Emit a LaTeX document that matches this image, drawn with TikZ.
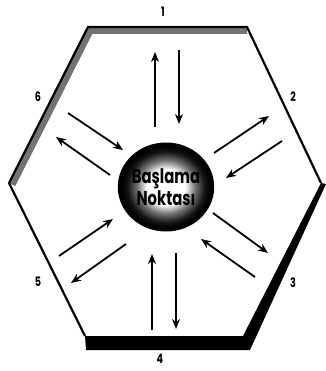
\documentclass[tikz,border=0pt]{standalone}
\usepackage{fontspec}
\newfontfamily\hexfont{Poppins}[FakeStretch=0.74]
\usepackage{tikz}
\usetikzlibrary{arrows.meta, calc}
\definecolor{myband}{rgb}{0.45, 0.45, 0.45}
\pgfdeclareradialshading{ballshade}{\pgfpoint{0bp}{0bp}}{color(0bp)=(white); color(10bp)=(white); color(15bp)=(black!55); color(20bp)=(black!92); color(23bp)=(black); color(50bp)=(black)}
\tikzstyle{ball} = [ellipse, minimum width=79pt, minimum height=89pt, inner sep=0pt, shading=ballshade, align=center, font=\hexfont\bfseries\fontsize{20}{20}\selectfont]
\tikzstyle{sidelabel} = [font=\hexfont\bfseries\fontsize{13}{13}\selectfont, inner sep=0pt]
\tikzstyle{edge} = [line width=2.2pt, line join=miter]
\tikzstyle{arrow} = [line width=1.8pt, -{Stealth[length=10pt, width=8pt]}]
\usetikzlibrary{shapes.geometric}

\begin{document}
\begin{tikzpicture}[x=1pt, y=-1pt]
    \useasboundingbox (0,0) rectangle (325,371);
    % hexagon corners
    \coordinate (v1) at (88,27);
    \coordinate (v2) at (247,27);
    \coordinate (v3) at (321,183);
    \coordinate (v4) at (243,336);
    \coordinate (v5) at (85,336);
    \coordinate (v6) at (9,183);
    % grey bevel on top and upper left
    \begin{scope}
        \clip (v1) -- (v2) -- (v3) -- (v4) -- (v5) -- (v6) -- cycle;
        \draw[myband, line width=14pt] (v6) -- (v1) -- (v2);
    \end{scope}
    % black shadow at the bottom
    \fill[black] (v3) -- (v4) -- (v5) -- (86,350) -- (250,350) -- (326,184) -- cycle;
    \draw[edge] (v5) -- (v6) -- (v1) -- (v2) -- (v3);

    \node (start) [ball] at (166,187) {Başlama\\[1pt]Noktası};

    \node (l1) [sidelabel] at (163,12) {1};
    \node (l2) [sidelabel] at (293,97) {2};
    \node (l3) [sidelabel] at (293,283) {3};
    \node (l4) [sidelabel] at (160,359) {4};
    \node (l5) [sidelabel] at (38,282) {5};
    \node (l6) [sidelabel] at (38,97) {6};

    % arrow ends
    \coordinate (a1o) at (155,127); \coordinate (b1o) at (155,52);
    \coordinate (a1i) at (179,50);  \coordinate (b1i) at (179,124);
    \coordinate (a2o) at (214,153); \coordinate (b2o) at (269,116);
    \coordinate (a2i) at (282,141); \coordinate (b2i) at (226,178);
    \coordinate (a3o) at (213,213); \coordinate (b3o) at (268,253);
    \coordinate (a3i) at (255,277); \coordinate (b3i) at (201,239);
    \coordinate (a4o) at (176,253); \coordinate (b4o) at (176,329);
    \coordinate (a4i) at (152,330); \coordinate (b4i) at (152,254);
    \coordinate (a5o) at (126,244); \coordinate (b5o) at (71,283);
    \coordinate (a5i) at (59,256);  \coordinate (b5i) at (113,219);
    \coordinate (a6o) at (110,175); \coordinate (b6o) at (56,137);
    \coordinate (a6i) at (68,113);  \coordinate (b6i) at (123,150);

    \draw[arrow] (a1o) -- (b1o);
    \draw[arrow] (a1i) -- (b1i);
    \draw[arrow] (a2o) -- (b2o);
    \draw[arrow] (a2i) -- (b2i);
    \draw[arrow] (a3o) -- (b3o);
    \draw[arrow] (a3i) -- (b3i);
    \draw[arrow] (a4o) -- (b4o);
    \draw[arrow] (a4i) -- (b4i);
    \draw[arrow] (a5o) -- (b5o);
    \draw[arrow] (a5i) -- (b5i);
    \draw[arrow] (a6o) -- (b6o);
    \draw[arrow] (a6i) -- (b6i);
\end{tikzpicture}
\end{document}
